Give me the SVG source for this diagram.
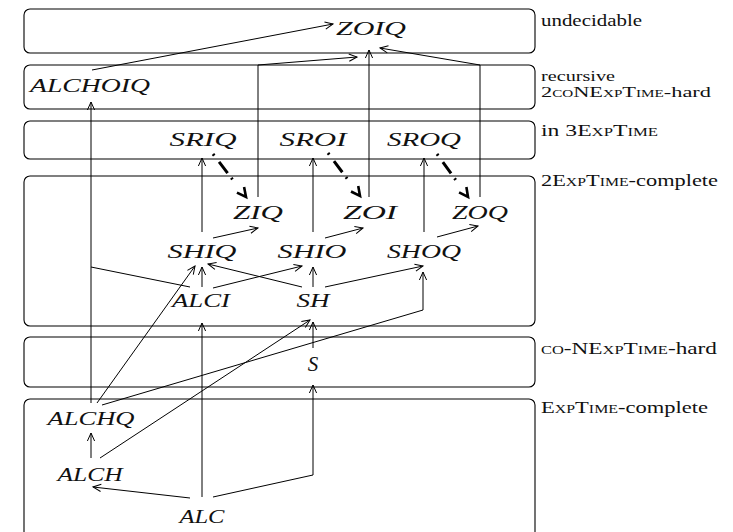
<svg xmlns="http://www.w3.org/2000/svg" width="733" height="532" viewBox="0 0 733 532">
<style>
.band{fill:none;stroke:#000;stroke-width:1.1}
.lbl{font-family:"Liberation Serif","Times New Roman",serif;font-size:17px;fill:#111}
.sm{font-size:14.8px}
.sc{font-variant:small-caps}
.n{font-family:"Liberation Serif","Times New Roman",serif;font-style:italic;font-size:19px;fill:#111;text-anchor:middle}
.c{fill:none;stroke:#000;stroke-width:1;marker-end:url(#ah)}
.cn{fill:none;stroke:#000;stroke-width:1}
.d{fill:none;stroke:#000;stroke-width:3;stroke-dasharray:2 8 14 6 2 40;marker-end:url(#bh)}
</style>
<defs>
<marker id="ah" markerUnits="userSpaceOnUse" markerWidth="12" markerHeight="12" refX="0" refY="0" orient="auto" viewBox="-10 -6 12 12" overflow="visible">
<path d="M-8,-3.6 L0,0 L-8,3.6" fill="none" stroke="#000" stroke-width="1"/>
</marker>
<marker id="bh" markerUnits="userSpaceOnUse" markerWidth="14" markerHeight="14" refX="0" refY="0" orient="auto" viewBox="-12 -7 14 14" overflow="visible">
<path d="M-9,-4.5 L0,0 L-9,4.5" fill="none" stroke="#000" stroke-width="2.6"/>
</marker>
</defs>

<g id="bands">
<rect class="band" x="24" y="9" width="511" height="44" rx="6"/>
<rect class="band" x="24" y="65" width="511" height="44" rx="6"/>
<rect class="band" x="24" y="121" width="511" height="38" rx="6"/>
<rect class="band" x="24" y="176" width="511" height="150" rx="6"/>
<rect class="band" x="24" y="337" width="511" height="50" rx="6"/>
<rect class="band" x="24" y="399" width="511" height="160" rx="6"/>
</g>

<g id="labels">
<text class="lbl" x="541" y="26" textLength="101" lengthAdjust="spacingAndGlyphs">undecidable</text>
<text class="lbl sm" x="541" y="80.5" textLength="74" lengthAdjust="spacingAndGlyphs">recursive</text>
<text class="lbl sm" x="541" y="97" textLength="170" lengthAdjust="spacingAndGlyphs">2<tspan class="sc">co</tspan>NE<tspan class="sc">xp</tspan>T<tspan class="sc">ime</tspan>-hard</text>
<text class="lbl" x="541" y="136" textLength="117" lengthAdjust="spacingAndGlyphs">in 3E<tspan class="sc">xp</tspan>T<tspan class="sc">ime</tspan></text>
<text class="lbl" x="541" y="186" textLength="177" lengthAdjust="spacingAndGlyphs">2E<tspan class="sc">xp</tspan>T<tspan class="sc">ime</tspan>-complete</text>
<text class="lbl" x="541" y="354" textLength="176" lengthAdjust="spacingAndGlyphs"><tspan class="sc">co</tspan>-NE<tspan class="sc">xp</tspan>T<tspan class="sc">ime</tspan>-hard</text>
<text class="lbl" x="541" y="413" textLength="167" lengthAdjust="spacingAndGlyphs">E<tspan class="sc">xp</tspan>T<tspan class="sc">ime</tspan>-complete</text>
</g>

<g id="connectors">
<path class="c" d="M92,70 L333,24"/>
<path class="c" d="M258,197 L258,65 L357,57"/>
<path class="c" d="M369,197 L369,50"/>
<path class="c" d="M480,197 L480,65 L380,48"/>
<path class="c" d="M202,232 L202,158"/>
<path class="c" d="M313,232 L313,158"/>
<path class="c" d="M424,232 L424,158"/>
<path class="d" d="M213,154 L246,197"/>
<path class="d" d="M328,153 L360,196"/>
<path class="d" d="M437,154 L468,197"/>
<path class="c" d="M213,238 L258,228"/>
<path class="c" d="M325,238 L363,228"/>
<path class="c" d="M437,237 L478,226"/>
<path class="c" d="M202,287 L202,267"/>
<path class="c" d="M313,287 L313,267"/>
<path class="c" d="M213,288 L302,266"/>
<path class="c" d="M302,287 L208,264"/>
<path class="c" d="M325,287 L423,266"/>
<path class="cn" d="M190,287 L91,267"/>
<path class="c" d="M91,403 L91,102"/>
<path class="c" d="M97,403 L195,266"/>
<path class="c" d="M100,458 L310,320"/>
<path class="c" d="M102,405 L423,310 L423,272"/>
<path class="c" d="M202,497 L202,323"/>
<path class="c" d="M313,348 L313,322"/>
<path class="c" d="M213,497 L313,475 L313,385"/>
<path class="c" d="M91,458 L91,433"/>
<path class="c" d="M190,498 L93,487"/>
</g>

<g id="ZOIQ"><text class="n" x="371" y="35" textLength="70" lengthAdjust="spacingAndGlyphs">ZOIQ</text></g>
<g id="ALCHOIQ"><text class="n" x="90" y="92" textLength="120" lengthAdjust="spacingAndGlyphs">ALCHOIQ</text></g>
<g id="SRIQ"><text class="n" x="203" y="146" textLength="67" lengthAdjust="spacingAndGlyphs">SRIQ</text></g>
<g id="SROI"><text class="n" x="313" y="146" textLength="67" lengthAdjust="spacingAndGlyphs">SROI</text></g>
<g id="SROQ"><text class="n" x="424" y="146" textLength="74" lengthAdjust="spacingAndGlyphs">SROQ</text></g>
<g id="ZIQ"><text class="n" x="258" y="219" textLength="50" lengthAdjust="spacingAndGlyphs">ZIQ</text></g>
<g id="ZOI"><text class="n" x="370" y="219" textLength="54" lengthAdjust="spacingAndGlyphs">ZOI</text></g>
<g id="ZOQ"><text class="n" x="480" y="219" textLength="56" lengthAdjust="spacingAndGlyphs">ZOQ</text></g>
<g id="SHIQ"><text class="n" x="202" y="258" textLength="69" lengthAdjust="spacingAndGlyphs">SHIQ</text></g>
<g id="SHIO"><text class="n" x="312" y="258" textLength="69" lengthAdjust="spacingAndGlyphs">SHIO</text></g>
<g id="SHOQ"><text class="n" x="424" y="258" textLength="74" lengthAdjust="spacingAndGlyphs">SHOQ</text></g>
<g id="ALCI"><text class="n" x="201" y="307" textLength="58" lengthAdjust="spacingAndGlyphs">ALCI</text></g>
<g id="SH"><text class="n" x="313" y="307" textLength="33" lengthAdjust="spacingAndGlyphs">SH</text></g>
<g id="S"><text class="n" x="313" y="371" style="font-size:21px">S</text></g>
<g id="ALCHQ"><text class="n" x="91" y="425" textLength="87" lengthAdjust="spacingAndGlyphs">ALCHQ</text></g>
<g id="ALCH"><text class="n" x="90" y="481" textLength="65" lengthAdjust="spacingAndGlyphs">ALCH</text></g>
<g id="ALC"><text class="n" x="202" y="523" textLength="45" lengthAdjust="spacingAndGlyphs">ALC</text></g>
</svg>
